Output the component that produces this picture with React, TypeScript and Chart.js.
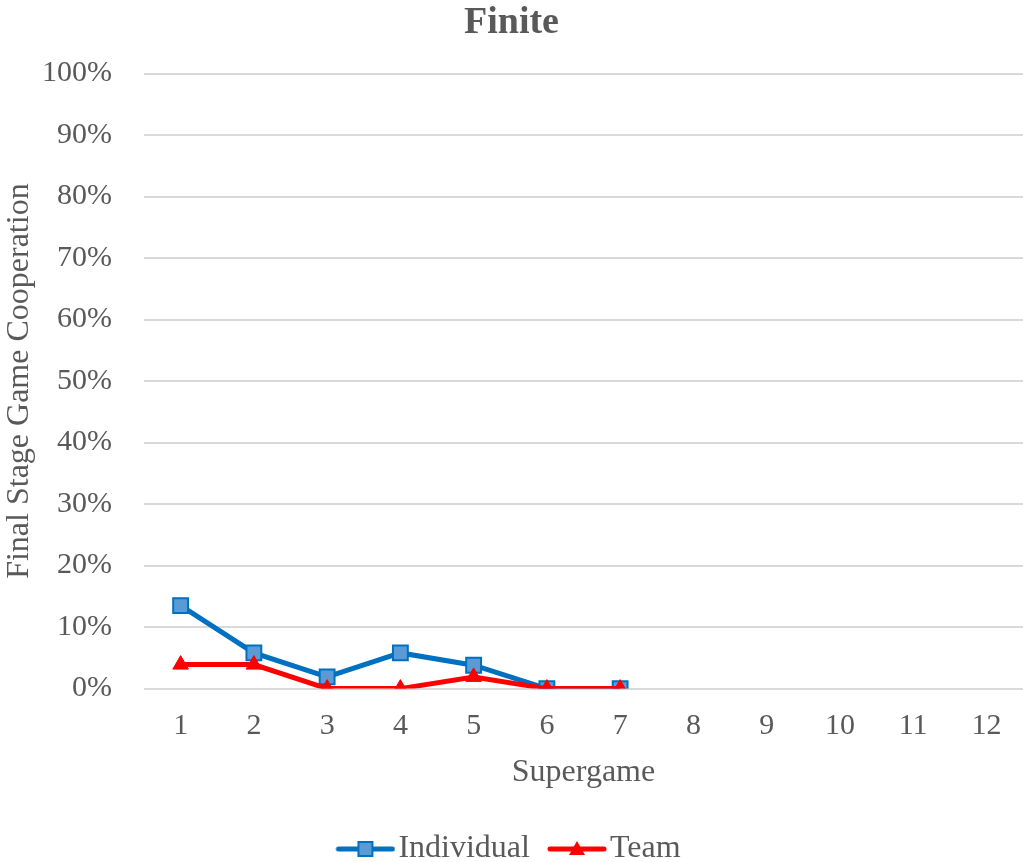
import React, { useEffect, useRef } from "react";
import { Chart, registerables } from "chart.js";

Chart.register(...registerables);

const supergames = ["1", "2", "3", "4", "5", "6", "7", "8", "9", "10", "11", "12"];
const individualValues = [13.5, 5.8, 1.9, 5.8, 3.8, 0, 0];
const teamValues = [3.9, 3.9, 0, 0, 1.9, 0, 0];

const BLUE = "#0070C0";
const BLUE_FILL = "#5B9BD5";
const RED = "#FF0000";
const TEXT = "#595959";
const FONT = "'Liberation Serif', 'Times New Roman', serif";

// Legend swatch: a short line with the series marker in its middle, drawn
// against the right edge of the image so it sits just before the label text
const SWATCH_W = 86;
const SWATCH_LINE = 60;
function makeSwatch(color: string, fill: string, shape: "square" | "triangle"): HTMLCanvasElement {
  const c = document.createElement("canvas");
  c.width = SWATCH_W;
  c.height = 22;
  const ctx = c.getContext("2d")!;
  const x0 = SWATCH_W - SWATCH_LINE;
  const mid = x0 + SWATCH_LINE / 2;
  ctx.strokeStyle = color;
  ctx.lineWidth = 5;
  ctx.lineCap = "round";
  ctx.beginPath();
  ctx.moveTo(x0 + 3, 11);
  ctx.lineTo(SWATCH_W - 3, 11);
  ctx.stroke();
  if (shape === "square") {
    ctx.fillStyle = fill;
    ctx.strokeStyle = color;
    ctx.lineWidth = 2;
    ctx.fillRect(mid - 7, 4, 14, 14);
    ctx.strokeRect(mid - 7, 4, 14, 14);
  } else {
    ctx.fillStyle = color;
    ctx.beginPath();
    ctx.moveTo(mid, 3);
    ctx.lineTo(mid + 8, 17);
    ctx.lineTo(mid - 8, 17);
    ctx.closePath();
    ctx.fill();
  }
  return c;
}

// Nudges the bottom legend row a little to the left
const legendShift = {
  id: "legendShift",
  afterLayout(chart: Chart) {
    const lg: any = (chart as any).legend;
    if (lg) {
      lg.left -= 10;
      lg.right -= 10;
    }
  },
};

export default function App() {
  const canvasRef = useRef<HTMLCanvasElement | null>(null);

  useEffect(() => {
    if (!canvasRef.current) return;
    const swatches = [
      makeSwatch(BLUE, BLUE_FILL, "square"),
      makeSwatch(RED, RED, "triangle"),
    ];
    const chart = new Chart(canvasRef.current, {
      type: "line",
      data: {
        labels: supergames,
        datasets: [
          {
            label: "Individual",
            data: individualValues,
            order: 1,
            borderColor: BLUE,
            backgroundColor: BLUE_FILL,
            borderWidth: 5,
            pointStyle: "rect",
            pointRadius: 10.5,
            pointBorderWidth: 2,
            pointBorderColor: BLUE,
            pointBackgroundColor: BLUE_FILL,
            tension: 0,
          },
          {
            label: "Team",
            data: teamValues,
            order: 0,
            borderColor: RED,
            backgroundColor: RED,
            borderWidth: 5,
            pointStyle: "triangle",
            pointRadius: 9,
            pointBorderWidth: 1,
            pointBorderColor: RED,
            pointBackgroundColor: RED,
            tension: 0,
          },
        ],
      },
      plugins: [legendShift],
      options: {
        animation: false,
        responsive: true,
        maintainAspectRatio: false,
        layout: { autoPadding: false, padding: { left: 0, right: 0, top: 0, bottom: -13 } },
        plugins: {
          title: {
            display: true,
            text: "Finite",
            color: TEXT,
            font: { family: FONT, size: 38, weight: "bold" },
            padding: { top: 0, bottom: 28 },
          },
          legend: {
            position: "bottom",
            labels: {
              color: TEXT,
              font: { family: FONT, size: 32 },
              usePointStyle: true,
              pointStyleWidth: SWATCH_W - 26,
              boxHeight: 22,
              padding: 4,
              generateLabels: (ch) =>
                ch.data.datasets.map((ds, i) => ({
                  text: ds.label as string,
                  fillStyle: "transparent",
                  strokeStyle: "transparent",
                  lineWidth: 0,
                  pointStyle: swatches[i],
                  datasetIndex: i,
                  hidden: false,
                  fontColor: TEXT,
                })),
            },
          },
          tooltip: { enabled: false },
        },
        scales: {
          x: {
            type: "category",
            offset: true,
            grid: { display: false, drawTicks: false },
            border: { display: false },
            ticks: {
              color: TEXT,
              font: { family: FONT, size: 30 },
              padding: 20,
              maxRotation: 0,
            },
            title: {
              display: true,
              text: "Supergame",
              color: TEXT,
              font: { family: FONT, size: 32 },
              padding: { top: -11, bottom: 37 },
            },
            afterFit: (scale) => {
              scale.paddingLeft = 0;
              scale.paddingRight = 0;
            },
          },
          y: {
            min: 0,
            max: 100,
            grid: { color: "#D9D9D9", lineWidth: 2, drawTicks: false },
            border: { display: false },
            ticks: {
              stepSize: 10,
              color: TEXT,
              font: { family: FONT, size: 30 },
              padding: 32,
              callback: (v) => `${v}%`,
            },
            title: {
              display: true,
              text: "Final Stage Game Cooperation",
              color: TEXT,
              font: { family: FONT, size: 32 },
              padding: { top: 0, bottom: 0 },
            },
            afterFit: (scale) => {
              scale.width = 144;
            },
          },
        },
      },
    });
    return () => chart.destroy();
  }, []);

  return (
    <div style={{ position: "fixed", left: 0, top: 0, width: 1023, height: 862, background: "#fff" }}>
      <canvas ref={canvasRef} />
    </div>
  );
}
